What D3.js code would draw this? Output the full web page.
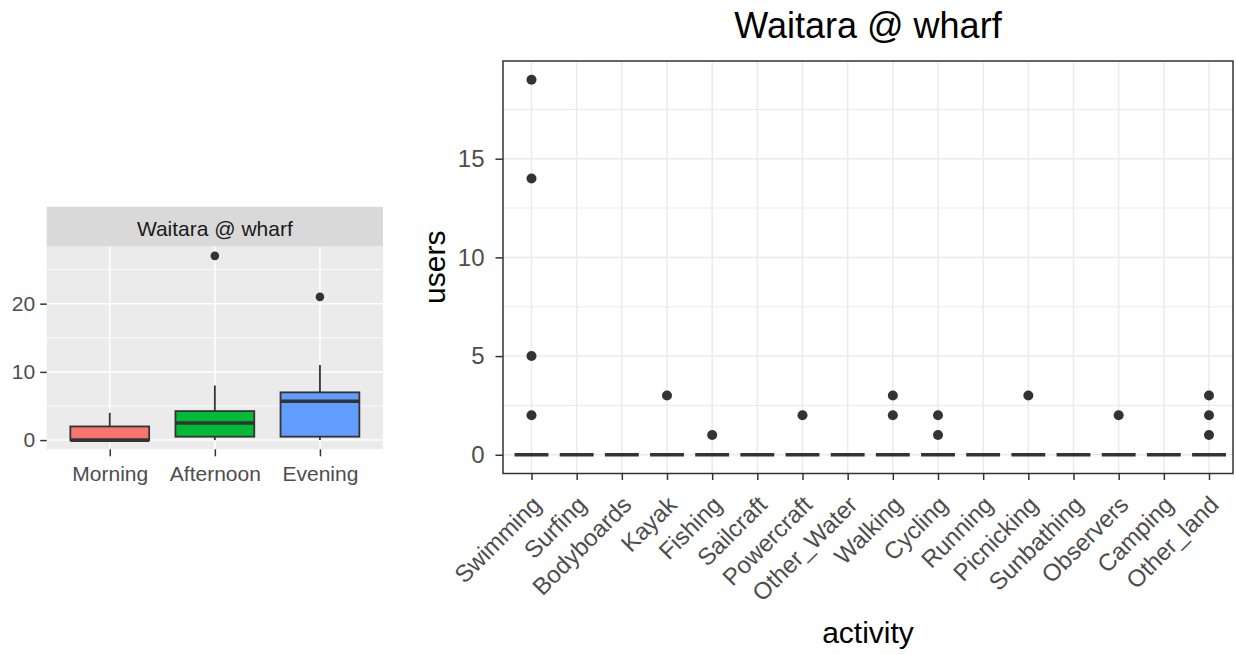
<!DOCTYPE html>
<html>
<head>
<meta charset="utf-8">
<script src="https://cdn.jsdelivr.net/npm/d3@7"></script>
<style>
  html, body { margin: 0; padding: 0; background: #ffffff; }
  svg { display: block; }
  text { font-family: "Liberation Sans", Arial, sans-serif; }
</style>
</head>
<body>
<svg id="chart" width="1236" height="655"></svg>
<script>
// ---- Left panel: users by time of day (box plot summary) ----
const periods      = ["Morning", "Afternoon", "Evening"];
const whiskerLow   = [0, 0, 0];
const quartile1    = [0, 0.5, 0.5];
const medianUsers  = [0, 2.5, 5.7];
const quartile3    = [2, 4.25, 7];
const whiskerHigh  = [4, 8, 11];
const periodOutlierPeriod = ["Afternoon", "Evening"];
const periodOutlierUsers  = [27, 21];
const periodTicks  = [0, 10, 20];
const periodMinor  = [5, 15, 25];
const stripLabel   = "Waitara @ wharf";

// ---- Right panel: users by activity ----
const activities = ["Swimming", "Surfing", "Bodyboards", "Kayak", "Fishing", "Sailcraft",
  "Powercraft", "Other_Water", "Walking", "Cycling", "Running", "Picnicking",
  "Sunbathing", "Observers", "Camping", "Other_land"];
const activityQ1     = [0,0,0,0,0,0,0,0,0,0,0,0,0,0,0,0];
const activityMedian = [0,0,0,0,0,0,0,0,0,0,0,0,0,0,0,0];
const activityQ3     = [0,0,0,0,0,0,0,0,0,0,0,0,0,0,0,0];
const outlierActivity = ["Swimming","Swimming","Swimming","Swimming","Kayak","Fishing",
  "Powercraft","Walking","Walking","Cycling","Cycling","Picnicking","Observers",
  "Other_land","Other_land","Other_land"];
const outlierUsers = [19, 14, 5, 2, 3, 1, 2, 3, 2, 2, 1, 3, 2, 3, 2, 1];
const userTicks  = [0, 5, 10, 15];
const userMinor  = [2.5, 7.5, 12.5, 17.5];
const chartTitle = "Waitara @ wharf";
const xTitle = "activity";
const yTitle = "users";

// ---- styling ----
const periodFill = ["#F8766D", "#00BA38", "#619CFF"];
const ink = "#333333";
const tickText = "#4D4D4D";

const svg = d3.select("#chart");

/* ================= LEFT PANEL ================= */
{
  const P = { x0: 46.7, x1: 383, strip: 206.7, y0: 246.7, y1: 449.3 };
  const fs = 21;
  const x = d3.scalePoint().domain(periods).range([P.x0, P.x1]).padding(0.6);
  const y = d3.scaleLinear().domain([-1.35, 28.35]).range([P.y1, P.y0]);
  const g = svg.append("g");

  // strip
  g.append("rect").attr("x", P.x0).attr("y", P.strip)
    .attr("width", P.x1 - P.x0).attr("height", P.y0 - P.strip).attr("fill", "#D9D9D9");
  g.append("text").attr("x", (P.x0 + P.x1) / 2).attr("y", 236)
    .attr("text-anchor", "middle").attr("font-size", fs).attr("fill", "#1A1A1A")
    .text(stripLabel);

  // panel background and grid
  g.append("rect").attr("x", P.x0).attr("y", P.y0)
    .attr("width", P.x1 - P.x0).attr("height", P.y1 - P.y0).attr("fill", "#EBEBEB");
  g.selectAll(".minor").data(periodMinor).join("line")
    .attr("x1", P.x0).attr("x2", P.x1).attr("y1", d => y(d)).attr("y2", d => y(d))
    .attr("stroke", "#ffffff").attr("stroke-width", 0.8);
  g.selectAll(".major").data(periodTicks).join("line")
    .attr("x1", P.x0).attr("x2", P.x1).attr("y1", d => y(d)).attr("y2", d => y(d))
    .attr("stroke", "#ffffff").attr("stroke-width", 1.5);
  g.selectAll(".vmajor").data(periods).join("line")
    .attr("x1", d => x(d)).attr("x2", d => x(d)).attr("y1", P.y0).attr("y2", P.y1)
    .attr("stroke", "#ffffff").attr("stroke-width", 1.5);

  const bw = x.step() * 0.75;
  const boxes = periods.map((p, i) => ({
    p, lo: whiskerLow[i], q1: quartile1[i], med: medianUsers[i], q3: quartile3[i], hi: whiskerHigh[i], fill: periodFill[i]
  }));
  const bg = g.selectAll(".box").data(boxes).join("g");
  bg.append("line").attr("x1", d => x(d.p)).attr("x2", d => x(d.p))
    .attr("y1", d => y(d.q3)).attr("y2", d => y(d.hi)).attr("stroke", ink).attr("stroke-width", 1.8);
  bg.append("line").attr("x1", d => x(d.p)).attr("x2", d => x(d.p))
    .attr("y1", d => y(d.q1)).attr("y2", d => y(d.lo)).attr("stroke", ink).attr("stroke-width", 1.8);
  bg.append("rect").attr("x", d => x(d.p) - bw / 2).attr("width", bw)
    .attr("y", d => y(d.q3)).attr("height", d => y(d.q1) - y(d.q3))
    .attr("fill", d => d.fill).attr("stroke", ink).attr("stroke-width", 1.8);
  bg.append("line").attr("x1", d => x(d.p) - bw / 2).attr("x2", d => x(d.p) + bw / 2)
    .attr("y1", d => y(d.med)).attr("y2", d => y(d.med)).attr("stroke", ink).attr("stroke-width", 3.6);

  g.selectAll(".out").data(periodOutlierPeriod.map((p, i) => ({ p, v: periodOutlierUsers[i] })))
    .join("circle").attr("cx", d => x(d.p)).attr("cy", d => y(d.v)).attr("r", 4.3).attr("fill", ink);

  // axes
  const ay = g.append("g").attr("transform", `translate(${P.x0},0)`)
    .call(d3.axisLeft(y).tickValues(periodTicks).tickSize(6.5).tickPadding(5));
  const ax = g.append("g").attr("transform", `translate(0,${P.y1})`)
    .call(d3.axisBottom(x).tickSize(7).tickPadding(10));
  [ay, ax].forEach(a => {
    a.select(".domain").remove();
    a.selectAll("line").attr("stroke", ink).attr("stroke-width", 1.5);
    a.selectAll("text").attr("fill", tickText).attr("font-size", fs)
      .attr("font-family", "Liberation Sans, Arial, sans-serif");
  });
}

/* ================= RIGHT PANEL ================= */
{
  const P = { x0: 503, x1: 1233, y0: 61, y1: 473.5 };
  const x = d3.scalePoint().domain(activities).range([531.5, 1209]);
  const y = d3.scaleLinear().domain([-0.95, 19.95]).range([P.y1, P.y0]);
  const g = svg.append("g");
  const step = x.step();

  // grid
  g.selectAll(".minor").data(userMinor).join("line")
    .attr("x1", P.x0).attr("x2", P.x1).attr("y1", d => y(d)).attr("y2", d => y(d))
    .attr("stroke", "#EBEBEB").attr("stroke-width", 1.1);
  g.selectAll(".major").data(userTicks).join("line")
    .attr("x1", P.x0).attr("x2", P.x1).attr("y1", d => y(d)).attr("y2", d => y(d))
    .attr("stroke", "#EBEBEB").attr("stroke-width", 1.5);
  g.selectAll(".vmajor").data(activities).join("line")
    .attr("x1", d => x(d)).attr("x2", d => x(d)).attr("y1", P.y0).attr("y2", P.y1)
    .attr("stroke", "#EBEBEB").attr("stroke-width", 1.5);

  // boxes (collapsed at zero) and medians
  const bw = step * 0.75;
  const boxes = activities.map((a, i) => ({ a, q1: activityQ1[i], med: activityMedian[i], q3: activityQ3[i] }));
  const bg = g.selectAll(".box").data(boxes).join("g");
  bg.append("rect").attr("x", d => x(d.a) - bw / 2).attr("width", bw)
    .attr("y", d => y(d.q3)).attr("height", d => y(d.q1) - y(d.q3))
    .attr("fill", "#ffffff").attr("stroke", ink).attr("stroke-width", 1.7);
  bg.append("line").attr("x1", d => x(d.a) - bw / 2).attr("x2", d => x(d.a) + bw / 2)
    .attr("y1", d => y(d.med)).attr("y2", d => y(d.med)).attr("stroke", ink).attr("stroke-width", 3.4);

  g.selectAll(".out").data(outlierActivity.map((a, i) => ({ a, v: outlierUsers[i] })))
    .join("circle").attr("cx", d => x(d.a)).attr("cy", d => y(d.v)).attr("r", 5).attr("fill", ink);

  // border
  g.append("rect").attr("x", P.x0).attr("y", P.y0)
    .attr("width", P.x1 - P.x0).attr("height", P.y1 - P.y0)
    .attr("fill", "none").attr("stroke", ink).attr("stroke-width", 1.5);

  // axes
  const ay = g.append("g").attr("transform", `translate(${P.x0},0)`)
    .call(d3.axisLeft(y).tickValues(userTicks).tickSize(7.5).tickPadding(11));
  const ax = g.append("g").attr("transform", `translate(0,${P.y1})`)
    .call(d3.axisBottom(x).tickSize(6.5));
  [ay, ax].forEach(a => {
    a.select(".domain").remove();
    a.selectAll("line").attr("stroke", ink).attr("stroke-width", 1.5);
    a.selectAll("text").attr("fill", tickText).attr("font-size", 24)
      .attr("font-family", "Liberation Sans, Arial, sans-serif");
  });
  ax.selectAll("text")
    .attr("x", null).attr("y", null).attr("dy", "0.75em")
    .attr("text-anchor", "end")
    .attr("transform", "translate(-2,20) rotate(-45)");

  // titles
  svg.append("text").attr("x", (P.x0 + P.x1) / 2).attr("y", 38)
    .attr("text-anchor", "middle").attr("font-size", 36).attr("fill", "#000")
    .text(chartTitle);
  svg.append("text").attr("x", (P.x0 + P.x1) / 2).attr("y", 643)
    .attr("text-anchor", "middle").attr("font-size", 30).attr("fill", "#000")
    .text(xTitle);
  svg.append("text")
    .attr("transform", `translate(445,${(P.y0 + P.y1) / 2}) rotate(-90)`)
    .attr("text-anchor", "middle").attr("font-size", 30).attr("fill", "#000")
    .text(yTitle);
}
</script>
</body>
</html>
